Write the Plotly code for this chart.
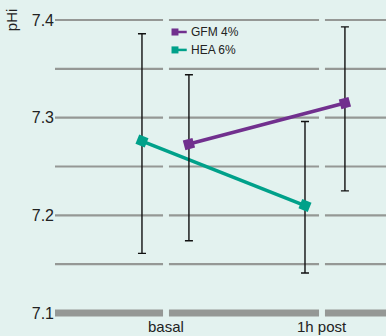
import plotly.graph_objects as go

# Data
timepoints = ["basal", "1h post"]
gfm_mean = [7.273, 7.315]
gfm_upper = [7.344, 7.393]
gfm_lower = [7.174, 7.225]
hea_mean = [7.276, 7.210]
hea_upper = [7.386, 7.296]
hea_lower = [7.161, 7.141]
y_ticks = [7.1, 7.2, 7.3, 7.4]
grid_levels = [7.15, 7.2, 7.25, 7.3, 7.35, 7.4]

# Styling
BG = "#E3F2EF"
GRID = "#959895"
PURPLE = "#71308E"
TEAL = "#00A18A"
FONT = "Liberation Sans Narrow, Arial Narrow, Liberation Sans, Arial, sans-serif"
X_RANGE = [-0.7115, 1.4103]
Y_RANGE = [7.0928, 7.4205]
GAP = 0.019
hea_offset = [-0.154, -0.109]
gfm_offset = [0.147, 0.147]

x_idx = list(range(len(timepoints)))
fig = go.Figure()


def add_series(offsets, mean, upper, lower, color, angle, name):
    fig.add_trace(go.Scatter(
        x=[i + o for i, o in zip(x_idx, offsets)],
        y=mean,
        mode="lines+markers",
        name=name,
        line=dict(color=color, width=3.5),
        marker=dict(symbol="square", size=10, color=color, angle=angle),
        error_y=dict(
            type="data", symmetric=False,
            array=[u - m for u, m in zip(upper, mean)],
            arrayminus=[m - l for m, l in zip(mean, lower)],
            color="#111111", thickness=1.4, width=4,
        ),
        showlegend=False,
    ))


add_series(hea_offset, hea_mean, hea_upper, hea_lower, TEAL, 22, "HEA 6%")
add_series(gfm_offset, gfm_mean, gfm_upper, gfm_lower, PURPLE, -15, "GFM 4%")

# Segmented horizontal gridlines with gaps at each timepoint
shapes = []
bounds = [X_RANGE[0]] + [v for i in x_idx for v in (i - GAP, i + GAP)] + [X_RANGE[1]]
segments = [(bounds[k], bounds[k + 1]) for k in range(0, len(bounds), 2)]
for lvl in [y_ticks[0]] + grid_levels:
    for x0, x1 in segments:
        shapes.append(dict(
            type="line", xref="x", yref="y", x0=x0, x1=x1, y0=lvl, y1=lvl,
            line=dict(color=GRID, width=7 if lvl == y_ticks[0] else 2.2),
            layer="below",
        ))

# Legend: square marker followed by a short line
legend_items = [("GFM 4%", PURPLE, 0.900), ("HEA 6%", TEAL, 0.844)]
annotations = []
for label, color, yp in legend_items:
    shapes.append(dict(type="rect", xref="paper", yref="paper",
                       x0=0.352, x1=0.373, y0=yp - 0.011, y1=yp + 0.011,
                       fillcolor=color, line=dict(width=0)))
    shapes.append(dict(type="line", xref="paper", yref="paper",
                       x0=0.37, x1=0.398, y0=yp, y1=yp,
                       line=dict(color=color, width=2.5)))
    annotations.append(dict(xref="paper", yref="paper", x=0.404, y=yp,
                            xanchor="left", yanchor="middle", showarrow=False,
                            text=label, font=dict(family=FONT, size=12, color="#222222")))

# Timepoint labels under the axis, kept inside the page
for i, label in zip(x_idx, timepoints):
    annotations.append(dict(xref="x", yref="paper", x=i, y=-0.05,
                            xanchor="center", yanchor="bottom", showarrow=False,
                            text=label, borderpad=0,
                            font=dict(family=FONT, size=15, color="#222222")))

annotations.append(dict(xref="paper", yref="paper", x=-0.133, y=0.94,
                        xanchor="center", yanchor="middle", showarrow=False,
                        text="pHi", textangle=-90,
                        font=dict(family=FONT, size=15, color="#222222")))

fig.update_layout(
    width=386, height=336,
    margin=dict(l=55, r=0, t=0, b=16, autoexpand=False),
    paper_bgcolor=BG, plot_bgcolor=BG,
    shapes=shapes, annotations=annotations,
    font=dict(family=FONT, color="#222222"),
    xaxis=dict(range=X_RANGE, tickvals=x_idx, showticklabels=False,
               showgrid=False, zeroline=False, showline=False, ticks="",
               automargin=False),
    yaxis=dict(range=Y_RANGE, tickvals=y_ticks,
               ticktext=[f"{v:.1f}" for v in y_ticks],
               showgrid=False, zeroline=False, showline=False, ticks="",
               automargin=False,
               tickfont=dict(size=16, family=FONT, color="#222222")),
)

fig.write_html("out.html")
